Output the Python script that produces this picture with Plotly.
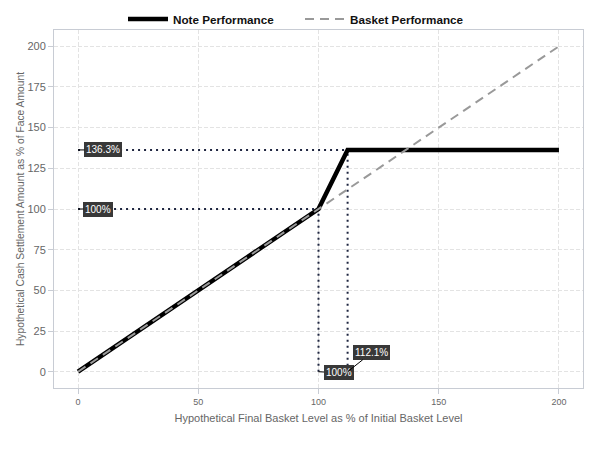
import plotly.graph_objects as go

# Data
basket_level = [0, 200]
basket_perf = [0, 200]
note_level = [0, 100, 112.1, 200]
note_perf = [0, 100, 136.3, 136.3]
ref_x = [100, 112.1]
ref_y = [100, 136.3]
ylabels = ["100%", "136.3%"]
xlabels = ["100%", "112.1%"]
xticks = [0, 50, 100, 150, 200]
yticks = [0, 25, 50, 75, 100, 125, 150, 175, 200]

FONT = "Liberation Sans, Arial, sans-serif"
DOT = "#1f2640"

fig = go.Figure()

# Reference dotted lines
for xv, yv in zip(ref_x, ref_y):
    fig.add_trace(go.Scatter(x=[0, xv], y=[yv, yv], mode="lines",
                             line=dict(color=DOT, width=2, dash="2px,4px"),
                             showlegend=False, hoverinfo="skip"))
    fig.add_trace(go.Scatter(x=[xv, xv], y=[0, yv], mode="lines",
                             line=dict(color=DOT, width=2, dash="2px,4px"),
                             showlegend=False, hoverinfo="skip"))

fig.add_trace(go.Scatter(x=note_level, y=note_perf, mode="lines",
                         name="Note Performance",
                         line=dict(color="black", width=4.5)))
fig.add_trace(go.Scatter(x=basket_level, y=basket_perf, mode="lines",
                         name="Basket Performance",
                         line=dict(color="#999999", width=2, dash="9px,6px")))

# Labels
lab_style = dict(font=dict(color="white", size=10, family=FONT),
                 bgcolor="#383838", bordercolor="#383838", borderpad=1,
                 showarrow=True, arrowhead=0, arrowwidth=1, arrowcolor="black")
fig.add_annotation(x=0, y=ref_y[0], text=ylabels[0], ax=20, ay=0, **lab_style)
fig.add_annotation(x=0, y=ref_y[1], text=ylabels[1], ax=25, ay=0, **lab_style)
fig.add_annotation(x=ref_x[0], y=0, text=xlabels[0], ax=20, ay=1, **lab_style)
fig.add_annotation(x=ref_x[1], y=0, text=xlabels[1], ax=24, ay=-19, **lab_style)

axis_common = dict(showgrid=True, gridcolor="#e3e3e3", griddash="4px,2px", gridwidth=1,
                   zeroline=False, showline=True, linecolor="#c8ccd4", mirror=True,
                   ticks="outside", tickcolor="#c8ccd4", ticklen=5,
                   range=[-10, 210])
fig.update_xaxes(tickvals=xticks, tickfont=dict(size=9, color="#666666", family=FONT),
                 title=dict(text="Hypothetical Final Basket Level as % of Initial Basket Level",
                            font=dict(size=11, color="#666666", family=FONT), standoff=8),
                 **axis_common)
fig.update_yaxes(tickvals=yticks, tickfont=dict(size=11, color="#666666", family=FONT),
                 title=dict(text="Hypothetical Cash Settlement Amount as % of Face Amount",
                            font=dict(size=10.3, color="#666666", family=FONT), standoff=0),
                 **axis_common)

fig.update_layout(
    width=600, height=450,
    margin=dict(l=54, r=17, t=30, b=62, autoexpand=False),
    plot_bgcolor="white", paper_bgcolor="white",
    font=dict(family=FONT),
    legend=dict(orientation="h", x=0.5, xanchor="center", xref="container",
                y=1 - 19 / 450, yanchor="middle", yref="container",
                font=dict(size=11.7, color="#111111", family=FONT, weight="bold"),
                itemwidth=40, entrywidth=122, entrywidthmode="pixels",
                bgcolor="rgba(0,0,0,0)"),
)

fig.write_html("out.html")
